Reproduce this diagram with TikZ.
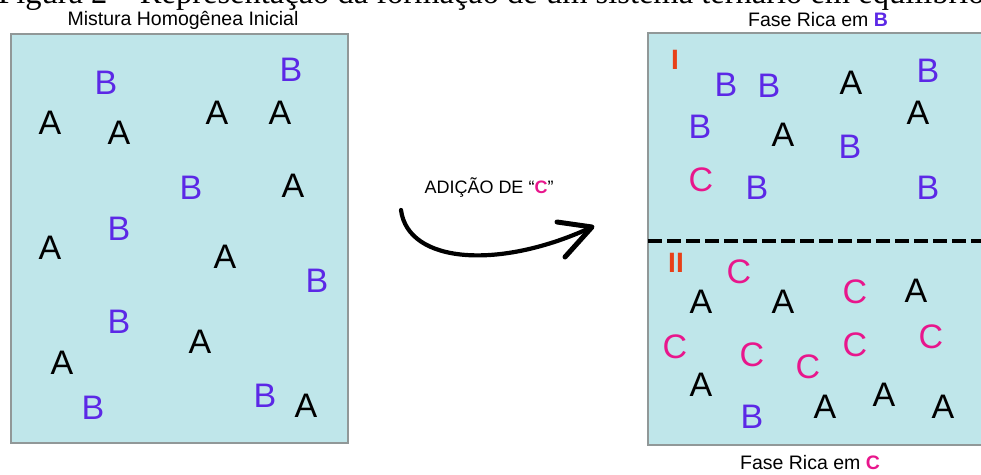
\documentclass[tikz,border=0pt]{standalone}
\usepackage{fontspec}
\setmainfont{Liberation Sans}
\newfontfamily\captionserif{Liberation Serif}
\definecolor{tank}{RGB}{191,230,234}
\definecolor{rim}{RGB}{145,152,152}
\definecolor{compB}{RGB}{92,40,230}
\definecolor{compC}{RGB}{232,22,140}
\definecolor{phase}{RGB}{232,64,24}
\tikzset{
  tankbox/.style={fill=tank, draw=rim, line width=2.5pt},
  interface/.style={draw=black, line width=3.5pt, dash pattern=on 14pt off 5pt},
  mol/.style={inner sep=0pt, font=\fontsize{34}{34}\selectfont},
  molA/.style={mol, text=black},
  molB/.style={mol, text=compB},
  molC/.style={mol, text=compC},
  phaselabel/.style={inner sep=0pt, text=phase, font=\bfseries\fontsize{28}{28}\selectfont},
  title/.style={inner sep=0pt, font=\fontsize{19.5}{19.5}\selectfont},
  swoosh/.style={line width=4.2pt, line cap=round, line join=round},
}
\begin{document}
\begin{tikzpicture}[x=1pt, y=-1pt]
\clip (0,0) rectangle (981,474);
\fill[white] (0,0) rectangle (981,474);

% figure caption running off the top edge
\node[anchor=base west, inner sep=0pt, font=\captionserif\fontsize{32.5}{32.5}\selectfont] (fig) at (-2,3)
  {Figura 2 – Representação da formação de um sistema ternário em equilíbrio};

% headings
\node[title] (hmix) at (183,20) {Mistura Homogênea Inicial};
\node[title] (hB) at (818,20) {Fase Rica em {\bfseries\color{compB}B}};
\node[title] (hC) at (810,463) {Fase Rica em {\bfseries\color{compC}C}};

% containers
\path[tankbox] (11,34) rectangle (348,443);
\path[tankbox] (648,33) rectangle (995,445);
\coordinate (ifL) at (648,241);
\coordinate (ifR) at (981,241);
\draw[interface] (ifL) -- (ifR);

% homogeneous mixture
\node[molB] (l1) at (106,83) {B};
\node[molB] (l2) at (291,70) {B};
\node[molA] (l3) at (50,123) {A};
\node[molA] (l4) at (119,133) {A};
\node[molA] (l5) at (217,113) {A};
\node[molA] (l6) at (280,113) {A};
\node[molB] (l7) at (191,188) {B};
\node[molA] (l8) at (293,186) {A};
\node[molB] (l9) at (119,229) {B};
\node[molA] (l10) at (50,248) {A};
\node[molA] (l11) at (225,257) {A};
\node[molB] (l12) at (317,281) {B};
\node[molB] (l13) at (119,322) {B};
\node[molA] (l14) at (200,342) {A};
\node[molA] (l15) at (62,363) {A};
\node[molB] (l16) at (93,408) {B};
\node[molB] (l17) at (265,396) {B};
\node[molA] (l18) at (306,406) {A};

% phase I (rich in B)
\node[phaselabel] (pI) at (675,60) {I};
\node[molB] (u1) at (726,85) {B};
\node[molB] (u2) at (769,86) {B};
\node[molA] (u3) at (851,83) {A};
\node[molB] (u4) at (928,71) {B};
\node[molB] (u5) at (700,127) {B};
\node[molA] (u6) at (783,135) {A};
\node[molA] (u7) at (918,113) {A};
\node[molB] (u8) at (850,147) {B};
\node[molC] (u9) at (701,180) {C};
\node[molB] (u10) at (757,188) {B};
\node[molB] (u11) at (928,188) {B};

% phase II (rich in C)
\node[phaselabel] (pII) at (676,263) {II};
\node[molC] (d1) at (739,272) {C};
\node[molA] (d2) at (701,302) {A};
\node[molA] (d3) at (783,302) {A};
\node[molC] (d4) at (855,292) {C};
\node[molA] (d5) at (916,291) {A};
\node[molC] (d6) at (675,347) {C};
\node[molC] (d7) at (752,355) {C};
\node[molC] (d8) at (808,367) {C};
\node[molC] (d9) at (855,345) {C};
\node[molC] (d10) at (931,337) {C};
\node[molA] (d11) at (701,385) {A};
\node[molB] (d12) at (752,417) {B};
\node[molA] (d13) at (825,407) {A};
\node[molA] (d14) at (884,395) {A};
\node[molA] (d15) at (943,407) {A};

% addition of C
\node[inner sep=0pt, font=\fontsize{18}{18}\selectfont] (add) at (489,188)
  {ADIÇÃO DE “{\bfseries\color{compC}C}”};
\coordinate (arrS) at (401,210);
\coordinate (arrT) at (592,227);
\coordinate (barbU) at (557,222);
\coordinate (barbL) at (565,257);
\draw[swoosh] (arrS) .. controls (408,264) and (500,270) .. (arrT);
\draw[swoosh, line width=5pt] (barbU) -- (arrT) -- (barbL);
\end{tikzpicture}
\end{document}
